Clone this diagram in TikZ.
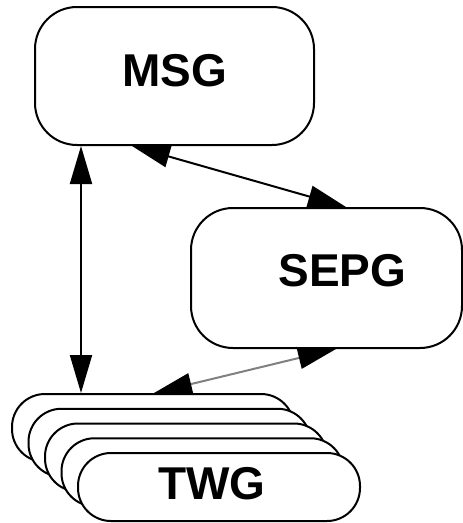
\documentclass[tikz,border=0pt]{standalone}
\usepackage{fontspec}
\setmainfont{Liberation Sans}
\usetikzlibrary{arrows.meta}
\usetikzlibrary{calc}

\begin{document}
\begin{tikzpicture}
          [x=1pt, y=-1pt, line width=2pt,
           every node/.style={draw, fill=white, rounded corners=42pt, inner sep=0pt,
             font=\fontsize{46}{50}\selectfont\bfseries},
           twg/.style={rounded corners=33pt, minimum width=282pt, minimum height=68pt},
           >={Triangle[length=38pt, width=22pt, color=black]}]
          \useasboundingbox (0,0) rectangle (463,523);

          \node (msg) [minimum width=279pt, minimum height=138pt, text depth=12pt] at (174.5,76) {MSG};
          \node (sepg) [minimum width=271pt, minimum height=140pt, text depth=16pt] at (326.5,278) {\hspace*{32pt}SEPG};

          \node (twg1) [twg] at (153,428) {};
          \node (twg2) [twg] at (169.5,442.75) {};
          \node (twg3) [twg] at (186,457.5) {};
          \node (twg4) [twg] at (202.5,472.25) {};
          \node (twg5) [twg, text depth=7pt] at (219,487) {TWG\hspace*{14pt}};

          \draw[<->] ($(msg.south west)+(47,0)$) -- ($(twg1.north west)+(70,0)$);
          \draw[<->] ($(msg.south west)+(98,0)$) -- ($(sepg.north west)+(156,0)$);
          \draw[<->, gray] ($(sepg.south west)+(146,0)$) -- ($(twg1.north west)+(143,0)$);
        \end{tikzpicture}
\end{document}
